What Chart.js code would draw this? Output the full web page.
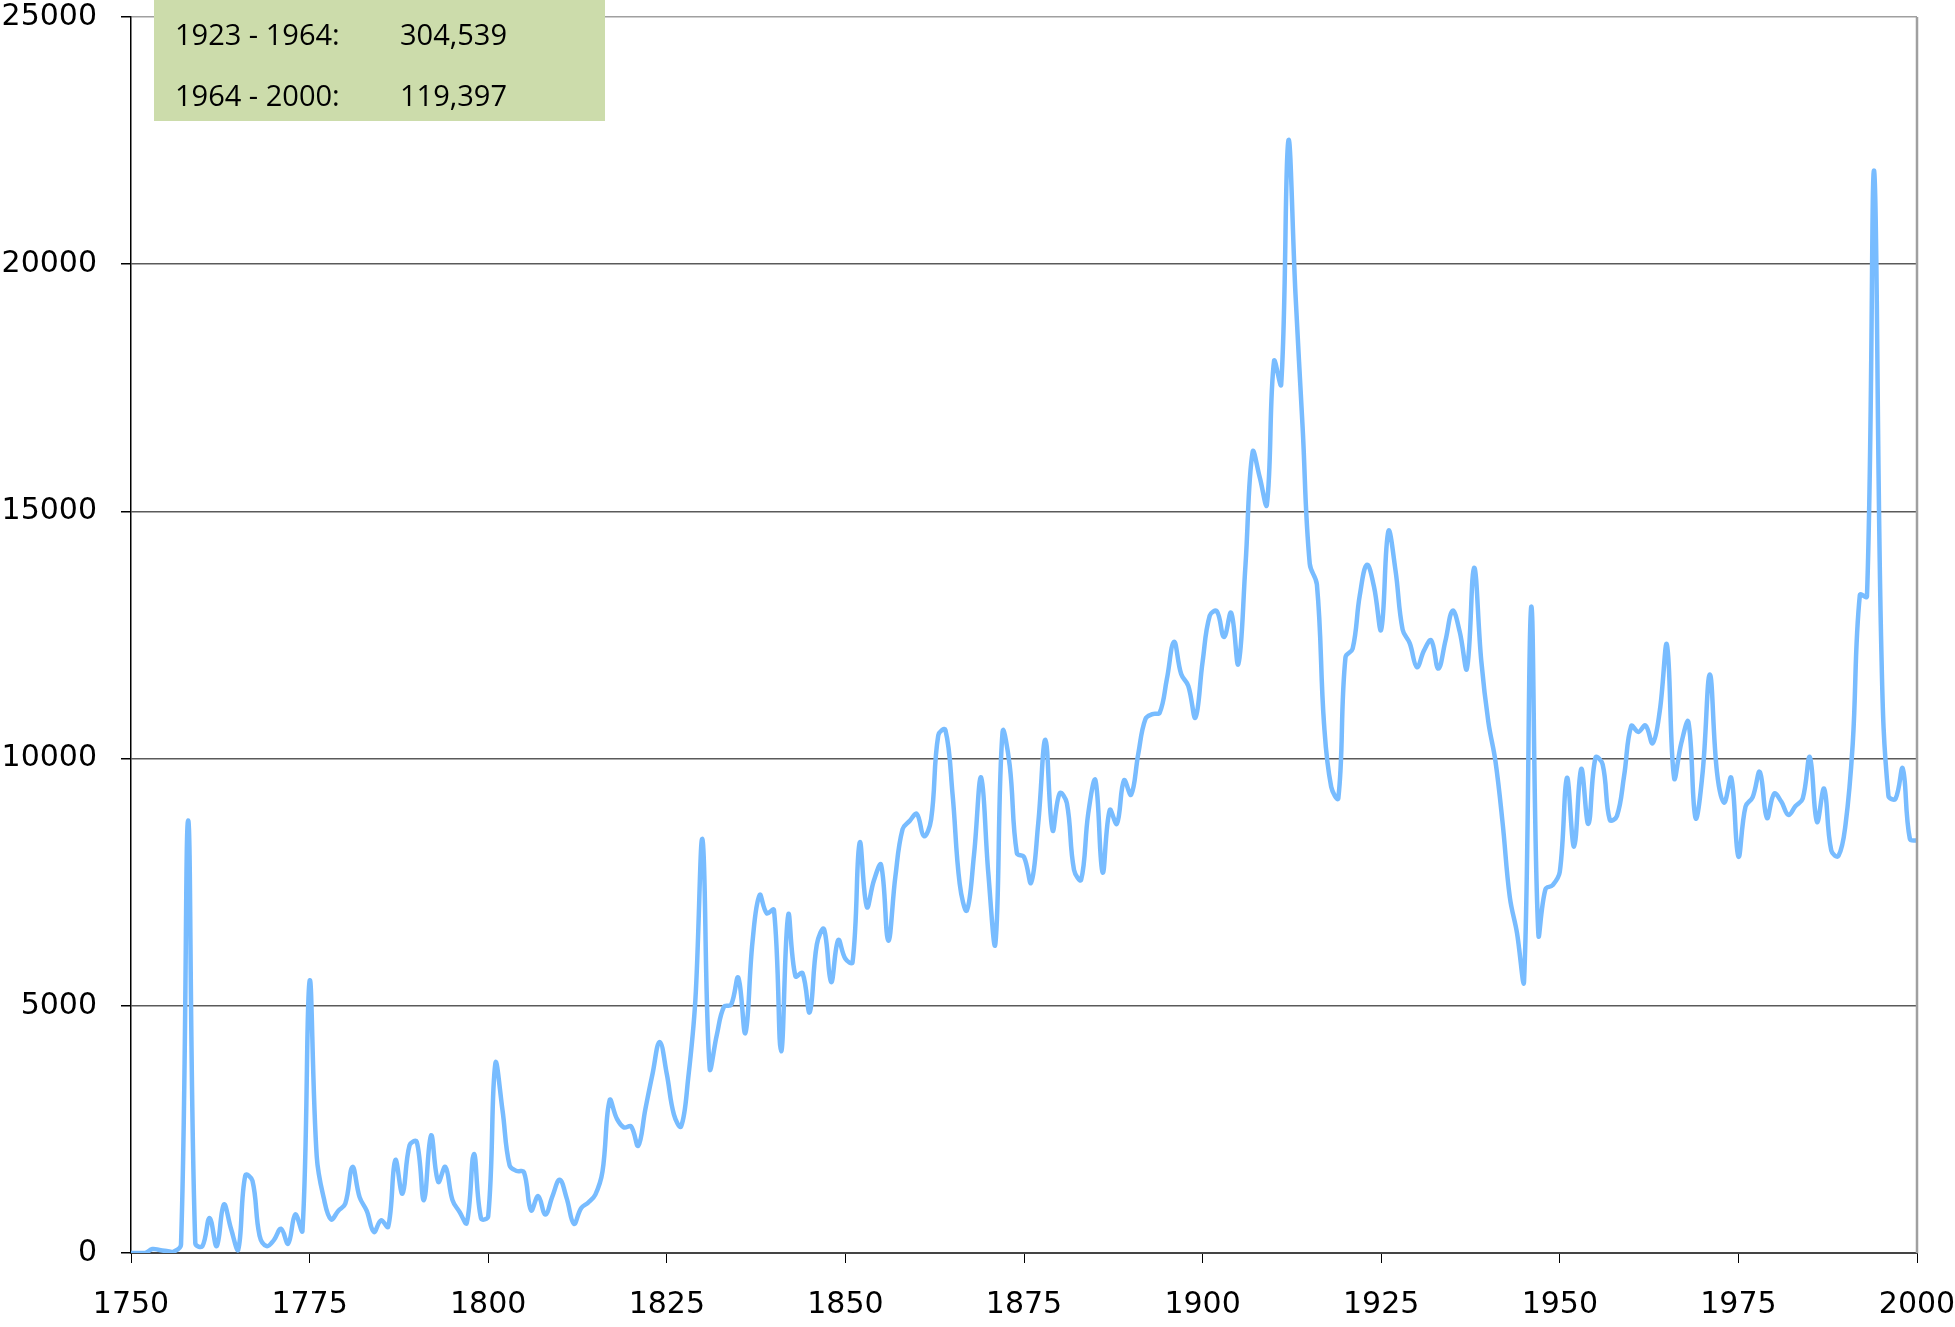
<!DOCTYPE html>
<html>
<head>
<meta charset="utf-8">
<script src="https://cdn.jsdelivr.net/npm/chart.js@4.4.1/dist/chart.umd.min.js"></script>
<style>
    body { margin: 0; background: #ffffff; }
    #wrap { width: 1955px; height: 1327px; position: relative; }
</style>
</head>
<body>
<div id="wrap"><canvas id="yearChart"></canvas></div>
<script>
const startYear = 1750;
const endYear = 2000;

const values1750 = [
    0, 0, 0, 80, 60, 40, 30, 170, 8750, 200,
    140, 710, 140, 980, 490, 60, 1570, 1460, 350, 140,
    260, 490, 190, 780, 450, 5500, 1950, 1100, 680, 850,
    1000, 1740, 1130, 850, 425, 660, 530, 1880, 1200, 2180,
    2250, 1070, 2380, 1440, 1740, 1070, 830, 610, 2000, 700,
];
const values1800 = [
    740, 3830, 2890, 1770, 1660, 1640, 860, 1150, 780, 1150,
    1480, 1100, 590, 905, 1020, 1180, 1650, 3090, 2720, 2540,
    2560, 2170, 2910, 3620, 4270, 3620, 2800, 2560, 3540, 5120,
    8360, 3740, 4410, 4980, 5020, 5570, 4450, 6300, 7240, 6870,
    6940, 4080, 6840, 5600, 5660, 4870, 6240, 6550, 5480, 6330,
];
const values1850 = [
    5950, 5880, 8300, 7000, 7540, 7850, 6320, 7620, 8570, 8740,
    8880, 8430, 8770, 10470, 10580, 9280, 7470, 6930, 8050, 9620,
    7690, 6260, 10540, 9860, 8090, 8010, 7490, 8700, 10380, 8550,
    9300, 9100, 7750, 7550, 8900, 9560, 7700, 8960, 8680, 9560,
    9270, 10100, 10800, 10900, 10930, 11610, 12360, 11710, 11470, 10830,
];
const values1900 = [
    11960, 12890, 12980, 12460, 12950, 11910, 13910, 16200, 15690, 15140,
    18040, 17570, 22490, 19400, 16700, 13940, 13520, 10700, 9430, 9200,
    12050, 12220, 13300, 13920, 13470, 12610, 14600, 13810, 12610, 12330,
    11850, 12190, 12390, 11820, 12390, 12990, 12560, 11820, 13860, 11990,
    10740, 9940, 8690, 7200, 6480, 5510, 13070, 6450, 7360, 7440,
];
const values1950 = [
    7710, 9610, 8220, 9790, 8680, 10020, 9880, 8760, 8840, 9650,
    10660, 10540, 10670, 10310, 10970, 12300, 9610, 10310, 10740, 8800,
    9730, 11700, 9730, 9110, 9610, 8020, 9030, 9220, 9730, 8800,
    9290, 9130, 8860, 9040, 9190, 10030, 8720, 9390, 8140, 8030,
    8670, 10290, 13310, 13280, 21890, 12260, 9250, 9190, 9800, 8380,
    8340,
];

const boxRows = [
    ["1923 - 1964:", "304,539"],
    ["1964 - 2000:", "119,397"],
];

const yTicks = [0, 5000, 10000, 15000, 20000, 25000];
const xTicks = [1750, 1775, 1800, 1825, 1850, 1875, 1900, 1925, 1950, 1975, 2000];

const allValues = values1750.concat(values1800, values1850, values1900, values1950);
const points = allValues.map((v, i) => ({ x: startYear + i, y: v }));

// green note box in the upper left corner + right frame line
const extras = {
    id: "extras",
    afterDraw(chart) {
        const ctx = chart.ctx;
        const area = chart.chartArea;
        ctx.save();
        ctx.strokeStyle = "#a0a0a0";
        ctx.lineWidth = 2.5;
        ctx.beginPath();
        ctx.moveTo(area.right, area.top);
        ctx.lineTo(area.right, area.bottom);
        ctx.stroke();

        ctx.fillStyle = "#ccdcab";
        ctx.fillRect(area.left + 23, 0, 451, 121);
        ctx.fillStyle = "#000000";
        ctx.font = "29px 'Open Sans'";
        ctx.textBaseline = "middle";
        boxRows.forEach((row, i) => {
            const y = 37 + i * 61;
            ctx.fillText(row[0], area.left + 44, y);
            ctx.fillText(row[1], area.left + 269, y);
        });
        ctx.restore();
    },
};

const config = {
    type: "line",
    data: {
        datasets: [
            {
                label: "Total",
                data: points,
                borderColor: "#78bcff",
                borderWidth: 4.5,
                pointRadius: 0,
                tension: 0.4,
                fill: false,
            },
        ],
    },
    options: {
        responsive: true,
        maintainAspectRatio: false,
        animation: false,
        layout: {
            padding: { top: 17, right: 38, left: 0, bottom: 0 },
        },
        plugins: {
            legend: { display: false },
            tooltip: { enabled: false },
        },
        scales: {
            x: {
                type: "linear",
                min: startYear,
                max: endYear,
                afterFit(scale) {
                    scale.height = 74;
                    scale.paddingLeft = 0;
                    scale.paddingRight = 0;
                },
                afterBuildTicks(scale) {
                    scale.ticks = xTicks.map((v) => ({ value: v }));
                },
                ticks: {
                    padding: 24,
                    color: "#000000",
                    font: { family: "'DejaVu Sans'", size: 30 },
                    callback: (v) => String(v),
                },
                grid: {
                    drawOnChartArea: false,
                    tickLength: 10,
                    tickColor: "#000000",
                },
                border: { color: "#444444", width: 2 },
            },
            y: {
                min: 0,
                max: 25000,
                afterFit(scale) {
                    scale.width = 131;
                    scale.paddingTop = 0;
                    scale.paddingBottom = 0;
                },
                afterBuildTicks(scale) {
                    scale.ticks = yTicks.map((v) => ({ value: v }));
                },
                ticks: {
                    padding: 24,
                    color: "#000000",
                    font: { family: "'DejaVu Sans'", size: 30 },
                    callback: (v) => String(v),
                },
                grid: {
                    color: (c) => (c.tick && c.tick.value === 25000 ? "#a0a0a0" : "#5a5a5a"),
                    lineWidth: 1.5,
                    tickLength: 10,
                    tickColor: "#000000",
                },
                border: { color: "#000000", width: 1.5 },
            },
        },
    },
    plugins: [extras],
};

var yearChart = new Chart(document.getElementById("yearChart"), config);
</script>
</body>
</html>
